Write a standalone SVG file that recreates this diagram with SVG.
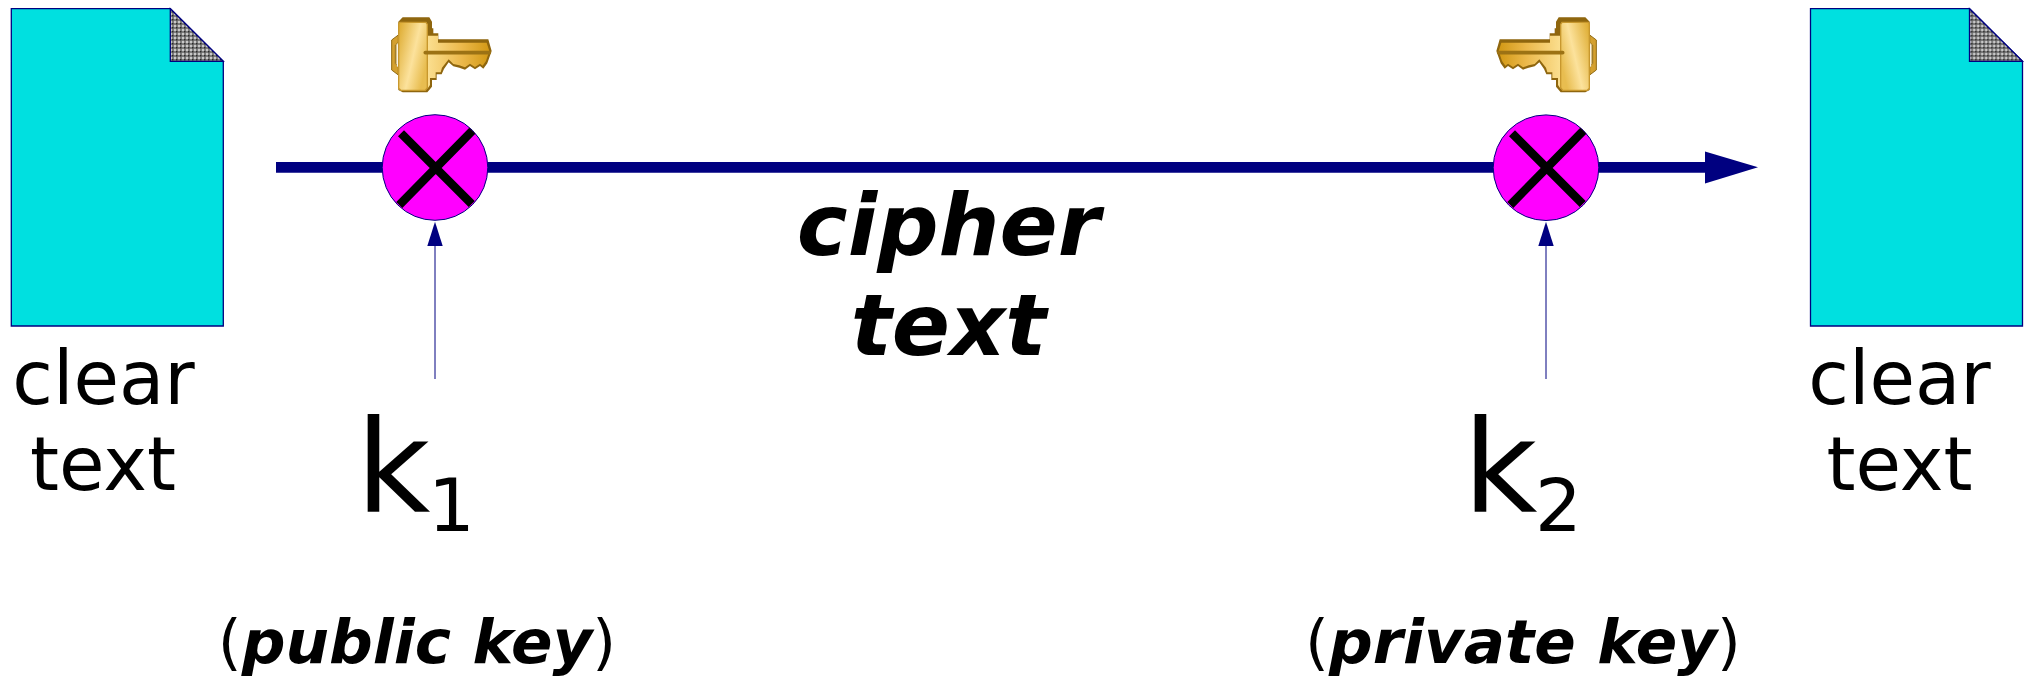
<svg xmlns="http://www.w3.org/2000/svg" width="2029" height="677" viewBox="0 0 2029 677">
<defs>
<pattern id="dots" width="4" height="4" patternUnits="userSpaceOnUse" x="170" y="9"><rect width="4" height="4" fill="#7c7c7c"/><rect x="0" y="0" width="2" height="2" fill="#c8c8c8"/><rect x="2" y="2" width="1.5" height="1.5" fill="#2a2a2a"/></pattern>
<linearGradient id="kb" x1="0" y1="0" x2="1" y2="0.55"><stop offset="0" stop-color="#dca92c"/><stop offset="0.6" stop-color="#fce29c"/><stop offset="1" stop-color="#e8bd50"/></linearGradient>
<linearGradient id="ks" x1="0" y1="0" x2="1" y2="0"><stop offset="0" stop-color="#fbdf90"/><stop offset="0.55" stop-color="#ecb94c"/><stop offset="1" stop-color="#d29814"/></linearGradient>
<g id="doc">
<path d="M11.3 8.7H170.3L223.3 61.3V326H11.3Z" class="paper"/>
<path d="M170.3 8.7L223.3 61.3H170.3Z" fill="url(#dots)" stroke="#000080" stroke-width="1.3"/>
</g>
<g id="key">
<g transform="translate(370 5) scale(.3333)">
<path d="M85 50L98 37H178L186 50V70H190V85H205V103H355L365 138L352 175L340 191L330 183L315 193L300 183L285 194L268 188L250 184L236 172L222 192L215 208H200V225H186V245L172 262H98L85 255Z" fill="#8f660e"/>
<path d="M172 92H204V113H350L358 138L348 168L338 182L330 176L315 186L300 176L285 187L268 181L250 177L236 163L216 188L212 202H197V219H180V240L172 252Z" fill="url(#ks)"/>
<path d="M85 90L65 105V195L85 210V183L76 176V120L85 112Z" fill="#d4a030" stroke="#8f6812" stroke-width="3"/>
<path d="M82 114H93V186H80V120Z" fill="#fff" stroke="#b98c22" stroke-width="2"/>
<path d="M88 52H168L172 58V248L166 256H92L86 250V58Z" fill="url(#kb)" stroke="#c8982e" stroke-width="4"/>
<path d="M166 143H358" stroke="#9c7214" stroke-width="11" stroke-linecap="round" fill="none"/>
</g>
</g>
</defs>
<style>
.paper{fill:#00e0e0;stroke:#000080;stroke-width:1.3}
.label{font-family:"DejaVu Sans",sans-serif;fill:#000}
.bi{font-style:italic;font-weight:bold}
.main{font-size:74px}
.cipher{font-size:85.8px}
.key{font-size:128.5px}
.sub{font-size:73.6px}
.note{font-size:61.2px}
.xor{fill:#ff00ff;stroke:#000080;stroke-width:1}
.x{stroke:#000;stroke-width:8.5;fill:none}
.thin{stroke:#000080;stroke-width:1;fill:none}
.head{fill:#000080}
</style>
<g id="connectors">
<path d="M276 167.3H1705" stroke="#000080" stroke-width="10.7" fill="none"/>
<path class="head" d="M1705 151.5L1758 167.3L1705 183.5Z"/>
<path class="thin" d="M435 379V246"/>
<path class="head" d="M435 221.7L427.3 246H442.7Z"/>
<path class="thin" d="M1546 379V246"/>
<path class="head" d="M1546 221.7L1538.3 246H1553.7Z"/>
</g>
<g id="doc-left"><use href="#doc"/></g>
<g id="doc-right"><use href="#doc" x="1799.2"/></g>
<g id="key-left"><use href="#key"/></g>
<g id="key-right"><use href="#key" transform="matrix(-1 0 0 1 1988 0)"/></g>
<g id="xor-left"><circle cx="435" cy="167.5" r="52.8" class="xor"/><path d="M401 133.3L471.7 204M472.3 130.7L399.3 205" class="x"/></g>
<g id="xor-right"><circle cx="1546" cy="167.7" r="52.8" class="xor"/><path d="M1512 133.3L1582.7 204M1583.3 130.7L1510.3 205" class="x"/></g>
<g id="labels">
<text class="label main" x="103.5" y="404" text-anchor="middle">clear</text>
<text class="label main" x="103" y="490" text-anchor="middle">text</text>
<text class="label main" x="1899.5" y="404" text-anchor="middle">clear</text>
<text class="label main" x="1899.5" y="490" text-anchor="middle">text</text>
<text class="label bi cipher" x="948.5" y="255" text-anchor="middle">cipher</text>
<text class="label bi cipher" x="948.5" y="355" text-anchor="middle">text</text>
<text class="label key" x="356" y="511.7">k</text>
<text class="label sub" x="428" y="530.7">1</text>
<text class="label key" x="1463" y="511.7">k</text>
<text class="label sub" x="1535" y="530.7">2</text>
<text class="label note" x="417" y="663" text-anchor="middle">(<tspan class="bi">public key</tspan>)</text>
<text class="label note" x="1523" y="663" text-anchor="middle">(<tspan class="bi">private key</tspan>)</text>
</g>
</svg>
